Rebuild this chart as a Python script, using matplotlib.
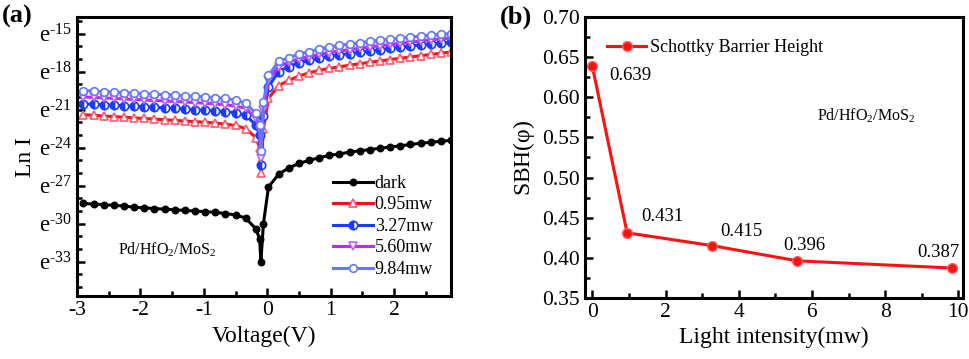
import matplotlib
matplotlib.use("Agg")
import matplotlib.pyplot as plt
from matplotlib.ticker import MultipleLocator

plt.rcParams["font.family"] = ["Liberation Serif", "DejaVu Serif"]
plt.rcParams["mathtext.fontset"] = "custom"
plt.rcParams["mathtext.rm"] = "Liberation Serif"
plt.rcParams["mathtext.it"] = "Liberation Serif:italic"
plt.rcParams["axes.unicode_minus"] = False

# panel (a): I-V curves, ln I vs voltage
voltage = [-2.90, -2.74, -2.58, -2.42, -2.26, -2.10, -1.94, -1.78, -1.62, -1.46,
           -1.30, -1.14, -0.98, -0.82, -0.66, -0.50, -0.34, -0.18, -0.12, -0.10,
           -0.06, 0.02, 0.18, 0.34, 0.50, 0.66, 0.82, 0.98, 1.14, 1.30,
           1.46, 1.62, 1.78, 1.94, 2.10, 2.26, 2.42, 2.58, 2.74, 2.90]
ln_dark = [-28.40, -28.45, -28.50, -28.55, -28.60, -28.70, -28.75, -28.80, -28.85, -28.90,
           -28.95, -29.00, -29.05, -29.10, -29.20, -29.30, -29.55, -30.40, -31.20, -33.00,
           -30.00, -27.10, -26.10, -25.60, -25.25, -25.00, -24.80, -24.60, -24.50, -24.35,
           -24.25, -24.15, -24.05, -23.95, -23.85, -23.75, -23.65, -23.58, -23.50, -23.42]
ln_095 = [-21.40, -21.45, -21.50, -21.55, -21.60, -21.65, -21.70, -21.75, -21.80, -21.85,
          -21.90, -21.95, -22.00, -22.05, -22.15, -22.25, -22.50, -23.20, -24.00, -26.00,
          -22.50, -20.10, -19.10, -18.70, -18.35, -18.10, -17.90, -17.75, -17.62, -17.50,
          -17.38, -17.27, -17.16, -17.05, -16.95, -16.85, -16.75, -16.65, -16.55, -16.45]
ln_327 = [-20.55, -20.58, -20.62, -20.66, -20.70, -20.74, -20.78, -20.82, -20.86, -20.90,
          -20.95, -21.00, -21.05, -21.10, -21.15, -21.25, -21.45, -22.20, -23.00, -25.35,
          -21.50, -19.20, -18.00, -17.60, -17.30, -17.10, -16.95, -16.80, -16.68, -16.58,
          -16.48, -16.38, -16.28, -16.18, -16.08, -15.98, -15.90, -15.82, -15.76, -15.70]
ln_560 = [-20.00, -20.04, -20.08, -20.12, -20.16, -20.20, -20.24, -20.28, -20.32, -20.36,
          -20.40, -20.45, -20.50, -20.55, -20.62, -20.72, -20.90, -21.70, -22.60, -24.80,
          -21.00, -18.70, -17.60, -17.25, -17.00, -16.82, -16.65, -16.50, -16.38, -16.27,
          -16.16, -16.06, -15.96, -15.86, -15.77, -15.68, -15.59, -15.50, -15.42, -15.35]
ln_984 = [-19.50, -19.54, -19.58, -19.62, -19.66, -19.70, -19.74, -19.78, -19.82, -19.86,
          -19.90, -19.95, -20.00, -20.05, -20.12, -20.25, -20.50, -21.30, -22.20, -24.30,
          -20.40, -18.30, -17.20, -16.90, -16.62, -16.42, -16.22, -16.05, -15.93, -15.82,
          -15.72, -15.62, -15.52, -15.44, -15.36, -15.28, -15.20, -15.12, -15.06, -15.00]
ytick_exponents = [-15, -18, -21, -24, -27, -30, -33]

# panel (b): Schottky barrier height vs light intensity
intensity = [0, 0.95, 3.27, 5.60, 9.84]
sbh = [0.639, 0.431, 0.415, 0.396, 0.387]
sbh_labels = ["0.639", "0.431", "0.415", "0.396", "0.387"]


def style_axes(ax):
    for s in ax.spines.values():
        s.set_linewidth(2.2)
    ax.tick_params(which="both", direction="in", width=1.8, labelsize=15.5,
                   top=False, right=False)
    ax.tick_params(which="major", length=6)
    ax.tick_params(which="minor", length=3.5)


fig = plt.figure(figsize=(9.69, 3.59), dpi=100)
ax1 = fig.add_axes([0.0795, 0.1755, 0.386, 0.777])
ax2 = fig.add_axes([0.6037, 0.1708, 0.3898, 0.781])

# --- panel (a)
series = [
    (ln_dark, "dark", "black", dict(marker="o", markersize=4.5, markerfacecolor="black")),
    (ln_095, "0.95mw", "#ff1010", dict(marker="^", markersize=6, markerfacecolor="white",
                                       markeredgecolor="#ff5a6e")),
    (ln_327, "3.27mw", "#1a3cff", dict(marker="o", markersize=6, fillstyle="left",
                                       markerfacecoloralt="white")),
    (ln_560, "5.60mw", "#b52cff", dict(marker="v", markersize=6, markerfacecolor="white",
                                       markeredgecolor="#c060ff")),
    (ln_984, "9.84mw", "#6677ff", dict(marker="o", markersize=5.5, markerfacecolor="white",
                                       markeredgecolor="#6677ff")),
]
for vals, lab, col, mk in series:
    ax1.plot(voltage, vals, color=col, lw=2.2, label=lab, markeredgewidth=1.2, **mk)

ax1.set_xlim(-3, 2.9)
ax1.set_ylim(-35.7, -13.7)
ax1.set_yticks(ytick_exponents)
ax1.yaxis.set_minor_locator(MultipleLocator(1))
ax1.xaxis.set_major_locator(MultipleLocator(1))
ax1.xaxis.set_minor_locator(MultipleLocator(0.5))
style_axes(ax1)
ax1.set_yticklabels(["e$^{\u2010%d}$" % -e for e in ytick_exponents], fontsize=16.5)
ax1.set_xlabel("Voltage(V)", fontsize=17, labelpad=4)
ax1.set_ylabel("Ln I", fontsize=17, labelpad=2)
ax1.text(0.11, 0.165, r"Pd/HfO$_2$/MoS$_2$", transform=ax1.transAxes, fontsize=11.5,
         va="center")
ax1.legend(loc="lower right", frameon=False, fontsize=13, handlelength=2.2,
           handletextpad=0.1, labelspacing=0.25, borderaxespad=0.6)
fig.text(0.002, 0.985, "(a)", fontsize=19, fontweight="bold", va="top")

# --- panel (b)
ax2.plot(intensity, sbh, color="#ff1010", lw=2.2, marker="o", markersize=7,
         markerfacecolor="#ff1010", markeredgecolor="#ff6060", markeredgewidth=1,
         label="Schottky Barrier Height")
offsets = [(12, -7), (10, 12), (6, 10), (-10, 11), (-25, 11)]
for x, y, t, off in zip(intensity, sbh, sbh_labels, offsets):
    ax2.annotate(t, (x, y), xytext=off, textcoords="offset points", fontsize=13.5,
                 ha="left", va="center")
ax2.set_xlim(-0.2, 10.12)
ax2.set_ylim(0.35, 0.70)
ax2.xaxis.set_major_locator(MultipleLocator(2))
ax2.xaxis.set_minor_locator(MultipleLocator(1))
ax2.yaxis.set_major_locator(MultipleLocator(0.05))
ax2.yaxis.set_minor_locator(MultipleLocator(0.025))
ax2.yaxis.set_major_formatter(plt.FormatStrFormatter("%.2f"))
style_axes(ax2)
ax2.set_xlabel("Light intensity(mw)", fontsize=17, labelpad=4)
ax2.set_ylabel(r"SBH($\mathregular{\varphi}$)", fontsize=17, labelpad=4)
ax2.text(0.614, 0.63, r"Pd/HfO$_2$/MoS$_2$", transform=ax2.transAxes, fontsize=11.5)
ax2.legend(loc="upper left", frameon=False, fontsize=13, handlelength=2.2,
           handletextpad=0.2, borderaxespad=0.8)
fig.text(0.516, 0.985, "(b)", fontsize=19, fontweight="bold", va="top")

fig.savefig("out.png", dpi=100)
